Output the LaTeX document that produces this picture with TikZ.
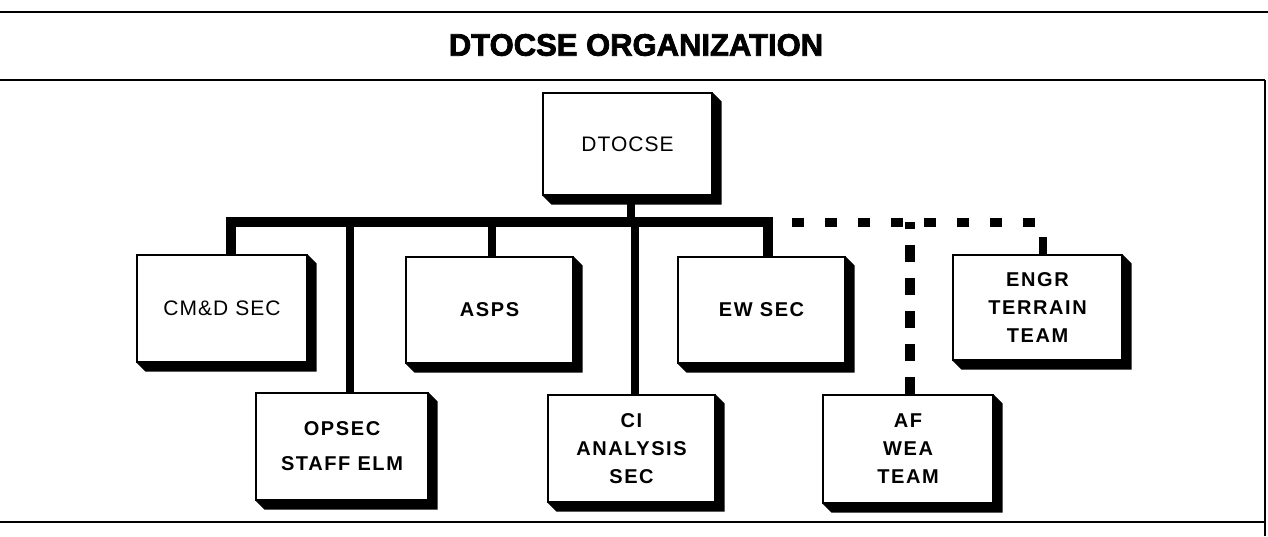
\documentclass[tikz,border=0pt]{standalone}
\usepackage{fontspec}
\setmainfont{Liberation Sans}
\newfontfamily\titlefont{Liberation Sans}[BoldFeatures={FakeBold=2.5}]
\newfontfamily\boxreg{Liberation Sans}[LetterSpace=5]
\newfontfamily\boxbold{Liberation Sans}[LetterSpace=8]
\usetikzlibrary{calc,backgrounds}
\tikzset{
  orgbox/.style={draw, fill=white, line width=1.2pt, inner sep=0pt, align=center,
    minimum width=#1},
  orgbox/.default=169pt,
  regtext/.style={font=\boxreg\fontsize{21}{28}\selectfont},
  boldtext/.style={font=\boxbold\bfseries\fontsize{20}{28}\selectfont},
  bus/.style={line width=10pt, line join=miter},
  stem/.style={line width=8.5pt},
  dashbus/.style={line width=9pt, dash pattern=on 12pt off 21pt, dash phase=9pt},
  dashstem/.style={line width=9.5pt, dash pattern=on 17pt off 16pt, dash phase=10pt},
  rule/.style={line width=2.4pt},
}
\begin{document}
\begin{tikzpicture}[x=1pt,y=-1pt]
\useasboundingbox (0,0) rectangle (1268,536);
% frame rules
\coordinate (tl) at (0,12);   \coordinate (tr) at (1268,12);
\coordinate (ml) at (0,80);   \coordinate (mr) at (1265,80);
\coordinate (bl) at (0,522);  \coordinate (br) at (1265,522);
\coordinate (rb) at (1265,536);
\draw[rule] (tl) -- (tr);
\draw[rule] (ml) -- (mr);
\draw[line width=2pt] (bl) -- (br);
\draw[line width=2pt] (mr) -- (rb);
\node[font=\titlefont\bfseries\fontsize{31}{31}\selectfont] (title) at (636,45) {DTOCSE ORGANIZATION};
% boxes
\node[orgbox=169pt, minimum height=102pt, regtext] (dtocse) at (627.5,144) {DTOCSE};
\node[orgbox=170pt, minimum height=107pt, regtext] (cmd) at (222,308.5) {CM\&D SEC};
\node[orgbox=167pt, minimum height=106pt, boldtext] (asps) at (489.5,310) {ASPS};
\node[orgbox=167pt, minimum height=106pt, boldtext] (ew) at (761.5,310) {EW SEC};
\node[orgbox=169pt, minimum height=105pt, boldtext] (engr) at (1037.5,307.5) {ENGR\\TERRAIN\\TEAM};
\node[orgbox=172pt, minimum height=107pt, font=\boxbold\bfseries\fontsize{20}{35}\selectfont] (opsec) at (342,446.5) {OPSEC\\STAFF ELM};
\node[orgbox=167pt, minimum height=107pt, boldtext] (ci) at (631.5,448.5) {CI\\ANALYSIS\\SEC};
\node[orgbox=170pt, minimum height=108pt, boldtext] (af) at (908,449) {AF\\WEA\\TEAM};
% shadows
\begin{pgfonlayer}{background}
\foreach \n in {dtocse,cmd,asps,ew,engr,opsec,ci,af}{
  \fill (\n.north west) -- (\n.north east) -- ($(\n.north east)+(9,9)$)
    -- ($(\n.south east)+(9,9)$) -- ($(\n.south west)+(9,9)$) -- (\n.south west) -- cycle;
}
\end{pgfonlayer}
% junctions on the bus
\coordinate (jcmd) at (231,222);
\coordinate (jops) at (350,222);
\coordinate (jasp) at (492,222);
\coordinate (jtop) at (631,222);
\coordinate (jci) at (635,222);
\coordinate (jew) at (768,222);
\coordinate (jaf) at (910,222);
\coordinate (jen) at (1043,222);
\coordinate (jenstub) at (1043,237);
% solid connectors
\draw[bus] (jcmd |- cmd.north) -- (jcmd) -- (jew) -- (jew |- ew.north);
\draw[stem] (dtocse.south -| jtop) -- (jtop);
\draw[stem] (jops) -- (jops |- opsec.north);
\draw[stem] (jasp) -- (jasp |- asps.north);
\draw[stem] (jci) -- (jci |- ci.north);
% dashed connectors
\draw[dashbus] (jew) -- (jen);
\draw[stem] (jenstub) -- (jenstub |- engr.north);
\draw[dashstem] (jaf) -- (jaf |- af.north);
\end{tikzpicture}
\end{document}
